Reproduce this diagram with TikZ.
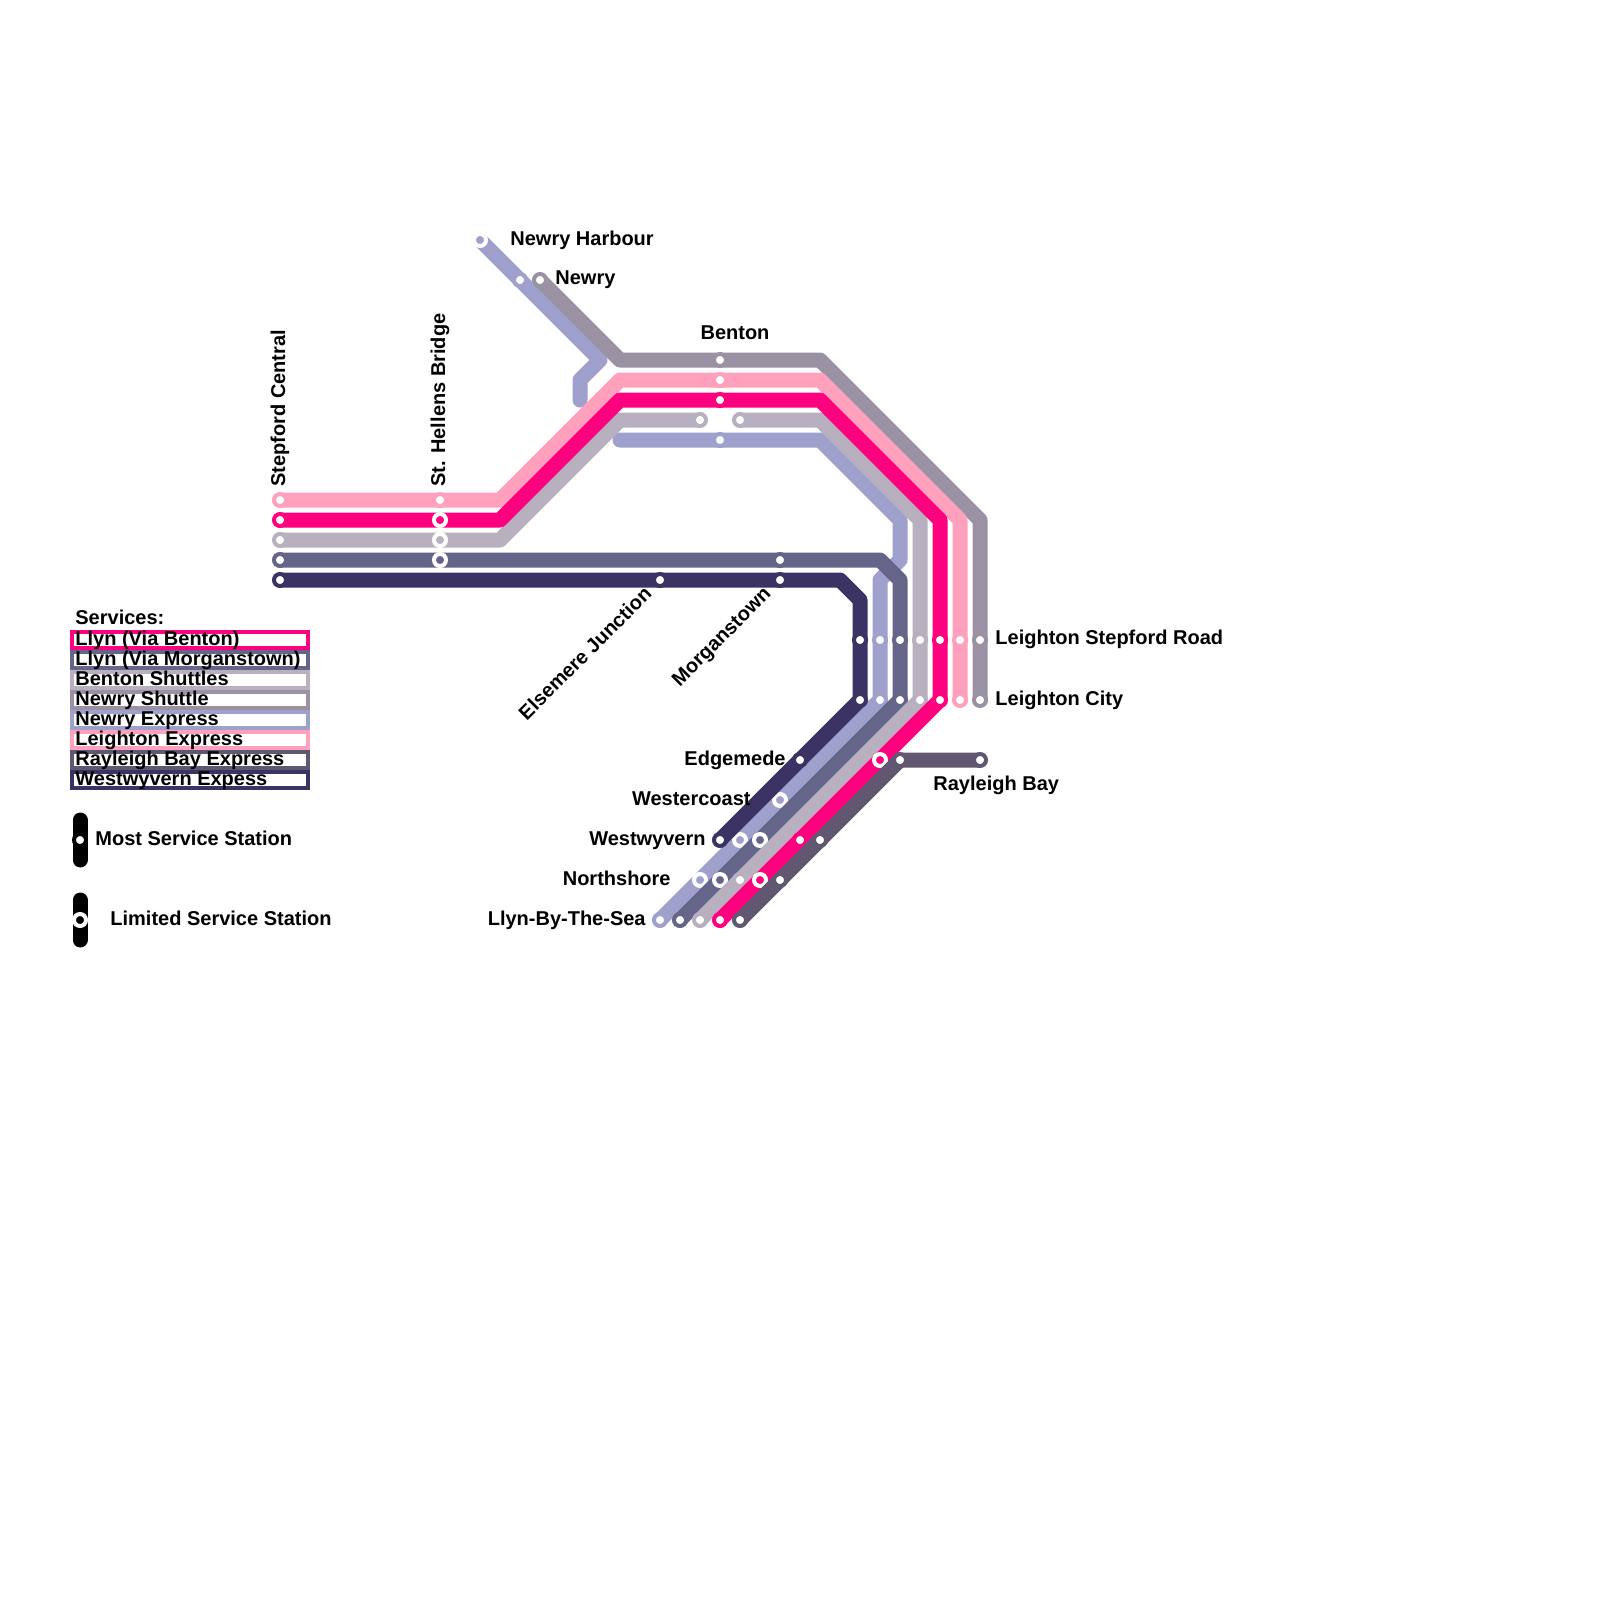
\documentclass[tikz,border=0pt]{standalone}
\usepackage{fontspec}
\setmainfont{Liberation Sans}
\definecolor{cLB}{HTML}{FF007F}
\definecolor{cLM}{HTML}{65658A}
\definecolor{cBS}{HTML}{B8AFBF}
\definecolor{cNS}{HTML}{9A92A3}
\definecolor{cNE}{HTML}{A0A0CC}
\definecolor{cLE}{HTML}{FFA1BD}
\definecolor{cRB}{HTML}{605870}
\definecolor{cWE}{HTML}{3B3364}
\tikzset{
  track/.style={line width=7.5pt,line cap=round,line join=round,draw=#1},
  reg/.style={circle,inner sep=0pt,minimum size=6pt,line width=2pt,draw=#1,fill=white},
  lim/.style={circle,inner sep=0pt,minimum size=6pt,line width=2pt,draw=white,fill=#1},
  lab/.style={inner sep=0pt,font=\fontsize{10}{12}\selectfont\bfseries,text=black},
  key/.style={line width=2pt,draw=#1,fill=white},
}
\begin{document}
\begin{tikzpicture}[x=0.5pt,y=-0.5pt]
\useasboundingbox (0,0) rectangle (1600,1600);
% legend
\draw[key=cLB] (72,632) rectangle (308,648);
\draw[key=cLM] (72,652) rectangle (308,668);
\draw[key=cBS] (72,672) rectangle (308,688);
\draw[key=cNS] (72,692) rectangle (308,708);
\draw[key=cNE] (72,712) rectangle (308,728);
\draw[key=cLE] (72,732) rectangle (308,748);
\draw[key=cRB] (72,752) rectangle (308,768);
\draw[key=cWE] (72,772) rectangle (308,788);
\node[lab,anchor=base west] (tServices) at (75,624) {Services:};
\node[lab,anchor=base west] (t1) at (75,645) {Llyn (Via Benton)};
\node[lab,anchor=base west] (t2) at (75,665) {Llyn (Via Morganstown)};
\node[lab,anchor=base west] (t3) at (75,685) {Benton Shuttles};
\node[lab,anchor=base west] (t4) at (75,705) {Newry Shuttle};
\node[lab,anchor=base west] (t5) at (75,725) {Newry Express};
\node[lab,anchor=base west] (t6) at (75,745) {Leighton Express};
\node[lab,anchor=base west] (t7) at (75,765) {Rayleigh Bay Express};
\node[lab,anchor=base west] (t8) at (75,785) {Westwyvern Expess};
\coordinate (k1a) at (80,820); \coordinate (k1b) at (80,860);
\coordinate (k2a) at (80,900); \coordinate (k2b) at (80,940);
\draw[track=black] (k1a) -- (k1b);
\draw[track=black] (k2a) -- (k2b);
\node[reg=black] (kReg) at (80,840) {};
\node[lim=black] (kLim) at (80,920) {};
\node[lab,anchor=base west] (tReg) at (95,845) {Most Service Station};
\node[lab,anchor=base west] (tLim) at (110,925) {Limited Service Station};
% Newry Express
\coordinate (neA) at (480,240); \coordinate (neB) at (600,360); \coordinate (neC) at (580,380); \coordinate (neD) at (580,400);
\coordinate (neE) at (620,440); \coordinate (neF) at (820,440); \coordinate (neG) at (900,520); \coordinate (neH) at (900,560);
\coordinate (neI) at (880,580); \coordinate (neJ) at (880,700); \coordinate (neK) at (660,920);
\draw[track=cNE] (neA) -- (neB) -- (neC) -- (neD);
\draw[track=cNE] (neE) -- (neF) -- (neG) -- (neH) -- (neI) -- (neJ) -- (neK);
\node[lim=cNE] (sNH) at (neA) {};
\node[reg=cNE] (sNw2) at (520,280) {};
\node[reg=cNE] (sBe4) at (720,440) {};
\node[reg=cNE] (sLS2) at (880,640) {};
\node[reg=cNE] (sLC2) at (880,700) {};
\node[lim=cNE] (sWc) at (780,800) {};
\node[lim=cNE] (sWv2) at (740,840) {};
\node[lim=cNE] (sNo1) at (700,880) {};
\node[reg=cNE] (sLl1) at (neK) {};
% Westwyvern Express
\coordinate (weA) at (280,580); \coordinate (weB) at (840,580); \coordinate (weC) at (860,600); \coordinate (weD) at (860,700); \coordinate (weE) at (720,840);
\draw[track=cWE] (weA) -- (weB) -- (weC) -- (weD) -- (weE);
\node[reg=cWE] (sSt5) at (weA) {};
\node[reg=cWE] (sEl) at (660,580) {};
\node[reg=cWE] (sMo2) at (780,580) {};
\node[reg=cWE] (sLS1) at (860,640) {};
\node[reg=cWE] (sLC1) at (860,700) {};
\node[reg=cWE] (sEd) at (800,760) {};
\node[reg=cWE] (sWv1) at (weE) {};
% Llyn via Morganstown
\coordinate (lmA) at (280,560); \coordinate (lmB) at (880,560); \coordinate (lmC) at (900,580); \coordinate (lmD) at (900,700); \coordinate (lmE) at (680,920);
\draw[track=cLM] (lmA) -- (lmB) -- (lmC) -- (lmD) -- (lmE);
\node[reg=cLM] (sSt4) at (lmA) {};
\node[lim=cLM] (sSH4) at (440,560) {};
\node[reg=cLM] (sMo1) at (780,560) {};
\node[reg=cLM] (sLS3) at (900,640) {};
\node[reg=cLM] (sLC3) at (900,700) {};
\node[lim=cLM] (sWv3) at (760,840) {};
\node[lim=cLM] (sNo2) at (720,880) {};
\node[reg=cLM] (sLl2) at (lmE) {};
% Benton Shuttles
\coordinate (bsA) at (280,540); \coordinate (bsB) at (500,540); \coordinate (bsC) at (620,420); \coordinate (bsD) at (700,420);
\coordinate (bsE) at (740,420); \coordinate (bsF) at (820,420); \coordinate (bsG) at (920,520); \coordinate (bsH) at (920,700); \coordinate (bsI) at (700,920);
\draw[track=cBS] (bsA) -- (bsB) -- (bsC) -- (bsD);
\draw[track=cBS] (bsE) -- (bsF) -- (bsG) -- (bsH) -- (bsI);
\node[reg=cBS] (sSt3) at (bsA) {};
\node[lim=cBS] (sSH3) at (440,540) {};
\node[reg=cBS] (sBe5) at (bsD) {};
\node[reg=cBS] (sBe6) at (bsE) {};
\node[reg=cBS] (sLS4) at (920,640) {};
\node[reg=cBS] (sLC4) at (920,700) {};
\node[reg=cBS] (sNo3) at (740,880) {};
\node[reg=cBS] (sLl3) at (bsI) {};
% Newry Shuttle
\coordinate (nsA) at (540,280); \coordinate (nsB) at (620,360); \coordinate (nsC) at (820,360); \coordinate (nsD) at (980,520); \coordinate (nsE) at (980,700);
\draw[track=cNS] (nsA) -- (nsB) -- (nsC) -- (nsD) -- (nsE);
\node[reg=cNS] (sNw1) at (nsA) {};
\node[reg=cNS] (sBe1) at (720,360) {};
\node[reg=cNS] (sLS7) at (980,640) {};
\node[reg=cNS] (sLC7) at (nsE) {};
% Leighton Express
\coordinate (leA) at (280,500); \coordinate (leB) at (500,500); \coordinate (leC) at (620,380); \coordinate (leD) at (820,380); \coordinate (leE) at (960,520); \coordinate (leF) at (960,700);
\draw[track=cLE] (leA) -- (leB) -- (leC) -- (leD) -- (leE) -- (leF);
\node[reg=cLE] (sSt1) at (leA) {};
\node[reg=cLE] (sSH1) at (440,500) {};
\node[reg=cLE] (sBe2) at (720,380) {};
\node[reg=cLE] (sLS6) at (960,640) {};
\node[reg=cLE] (sLC6) at (leF) {};
% Llyn via Benton
\coordinate (lbA) at (280,520); \coordinate (lbB) at (500,520); \coordinate (lbC) at (620,400); \coordinate (lbD) at (820,400); \coordinate (lbE) at (940,520); \coordinate (lbF) at (940,700); \coordinate (lbG) at (720,920);
\draw[track=cLB] (lbA) -- (lbB) -- (lbC) -- (lbD) -- (lbE) -- (lbF) -- (lbG);
\node[reg=cLB] (sSt2) at (lbA) {};
\node[lim=cLB] (sSH2) at (440,520) {};
\node[reg=cLB] (sBe3) at (720,400) {};
\node[reg=cLB] (sLS5) at (940,640) {};
\node[reg=cLB] (sLC5) at (940,700) {};
\node[lim=cLB] (sRb1) at (880,760) {};
\node[reg=cLB] (sWv4) at (800,840) {};
\node[lim=cLB] (sNo4) at (760,880) {};
\node[reg=cLB] (sLl4) at (lbG) {};
% Rayleigh Bay Express
\coordinate (rbA) at (980,760); \coordinate (rbB) at (900,760); \coordinate (rbC) at (740,920);
\draw[track=cRB] (rbA) -- (rbB) -- (rbC);
\node[reg=cRB] (sRb3) at (rbA) {};
\node[reg=cRB] (sRb2) at (rbB) {};
\node[reg=cRB] (sWv5) at (820,840) {};
\node[reg=cRB] (sNo5) at (780,880) {};
\node[reg=cRB] (sLl5) at (rbC) {};
% labels
\node[lab,anchor=base west] (tNH) at (510,245) {Newry Harbour};
\node[lab,anchor=base west] (tNw) at (555,284) {Newry};
\node[lab,anchor=base] (tBe) at (735,339) {Benton};
\node[lab,anchor=base west] (tLS) at (995,644) {Leighton Stepford Road};
\node[lab,anchor=base west] (tLC) at (995,705) {Leighton City};
\node[lab,anchor=base west] (tRB) at (933,790) {Rayleigh Bay};
\node[lab,anchor=base east] (tEd) at (786,765) {Edgemede};
\node[lab,anchor=base east] (tWc) at (751,805) {Westercoast};
\node[lab,anchor=base east] (tWv) at (706,845) {Westwyvern};
\node[lab,anchor=base east] (tNo) at (671,885) {Northshore};
\node[lab,anchor=base east] (tLl) at (646,925) {Llyn-By-The-Sea};
\node[lab,anchor=base west,rotate=90] (tSt) at (285,487) {Stepford Central};
\node[lab,anchor=base west,rotate=90] (tSH) at (445,487) {St. Hellens Bridge};
\node[lab,anchor=base east,rotate=45] (tEl) at (653,595) {Elsemere Junction};
\node[lab,anchor=base east,rotate=45] (tMo) at (772,595) {Morganstown};
\end{tikzpicture}
\end{document}
